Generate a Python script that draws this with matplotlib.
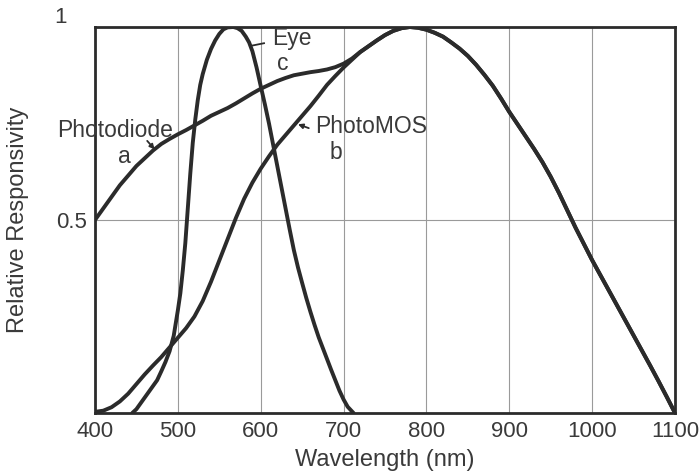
import matplotlib
matplotlib.use("Agg")
import matplotlib.pyplot as plt
from matplotlib.transforms import ScaledTranslation

plt.rcParams['font.family'] = ['Liberation Sans', 'DejaVu Sans']

# ---- data ----
# Photodiode (a)
wl_a = [400, 410, 420, 430, 440, 450, 460, 470, 480, 490, 500, 510, 520, 530,
        540, 550, 560, 570, 580, 590, 600, 610, 620, 630, 640, 650, 660, 670,
        680, 690, 700, 710, 720, 730, 740, 750, 760, 770, 780, 790, 800, 810,
        820, 830, 840, 850, 860, 870, 880, 890, 900, 910, 920, 930, 940, 950,
        960, 970, 980, 990, 1000, 1010, 1020, 1030, 1040, 1050, 1060, 1070,
        1080, 1090, 1100]
resp_a = [0.50, 0.53, 0.56, 0.59, 0.615, 0.64, 0.66, 0.68, 0.697, 0.71, 0.722,
          0.733, 0.745, 0.757, 0.77, 0.78, 0.79, 0.802, 0.815, 0.828, 0.84,
          0.85, 0.86, 0.868, 0.875, 0.879, 0.883, 0.886, 0.89, 0.896, 0.905,
          0.918, 0.935, 0.95, 0.965, 0.979, 0.99, 0.997, 1.0, 0.998, 0.993,
          0.985, 0.975, 0.96, 0.944, 0.925, 0.902, 0.876, 0.848, 0.815, 0.78,
          0.748, 0.716, 0.684, 0.65, 0.612, 0.57, 0.525, 0.48, 0.438, 0.396,
          0.357, 0.318, 0.279, 0.24, 0.201, 0.162, 0.123, 0.083, 0.042, 0.0]

# PhotoMOS (b)
wl_b = [400, 410, 420, 430, 440, 450, 460, 470, 480, 490, 500, 510, 520, 530,
        540, 550, 560, 570, 580, 590, 600, 610, 620, 630, 640, 650, 660, 670,
        680, 690, 700, 710, 720, 730, 740, 750, 760, 770, 780, 790, 800, 810,
        820, 830, 840, 850, 860, 870, 880, 890, 900, 910, 920, 930, 940, 950,
        960, 970, 980, 990, 1000, 1010, 1020, 1030, 1040, 1050, 1060, 1070,
        1080, 1090, 1100]
resp_b = [0.003, 0.006, 0.015, 0.03, 0.05, 0.075, 0.10, 0.123, 0.145, 0.17,
          0.195, 0.22, 0.25, 0.29, 0.34, 0.395, 0.45, 0.505, 0.555, 0.597,
          0.633, 0.665, 0.695, 0.72, 0.745, 0.77, 0.795, 0.822, 0.85, 0.873,
          0.895, 0.915, 0.935, 0.95, 0.965, 0.979, 0.99, 0.997, 1.0, 0.998,
          0.993, 0.985, 0.975, 0.96, 0.944, 0.925, 0.902, 0.876, 0.848, 0.815,
          0.78, 0.748, 0.716, 0.684, 0.65, 0.612, 0.57, 0.525, 0.48, 0.438,
          0.396, 0.357, 0.318, 0.279, 0.24, 0.201, 0.162, 0.123, 0.083, 0.042,
          0.0]

# Eye (c)
wl_c = [445, 450, 455, 460, 465, 470, 475, 480, 485, 490, 495, 500, 503, 506,
        509, 512, 515, 518, 521, 524, 527, 530, 535, 540, 545, 550, 555, 560,
        567, 572, 577, 582, 586, 590, 595, 600, 605, 610, 615, 620, 625, 630,
        635, 640, 645, 650, 655, 660, 665, 670, 675, 680, 685, 690, 695, 700,
        705, 712]
resp_c = [0.0, 0.01, 0.025, 0.04, 0.055, 0.07, 0.085, 0.108, 0.132, 0.16, 0.2,
          0.266, 0.31, 0.37, 0.44, 0.53, 0.62, 0.70, 0.76, 0.81, 0.85, 0.878,
          0.915, 0.943, 0.965, 0.982, 0.994, 0.999, 1.0, 0.997, 0.99, 0.975,
          0.96, 0.937, 0.895, 0.847, 0.8, 0.75, 0.695, 0.64, 0.585, 0.53,
          0.475, 0.422, 0.377, 0.337, 0.298, 0.262, 0.228, 0.196, 0.168, 0.14,
          0.112, 0.085, 0.058, 0.035, 0.016, 0.0]

x_ticks = [400, 500, 600, 700, 800, 900, 1000, 1100]
x_ticklabels = ['400', '500', '600', '700', '800', '900', '1000', '1100']
y_ticks = [0.5, 1.0]
y_ticklabels = ['0.5', '1']

# ---- figure ----
fig = plt.figure(figsize=(7.0, 4.73), dpi=100)
ax = fig.add_axes([95 / 700, 60 / 473, 580 / 700, 386 / 473])

line_col = '#2b2b2b'
txt_col = '#3a3a3a'
lw = 2.8

for wl, r in ((wl_b, resp_b), (wl_a, resp_a), (wl_c, resp_c)):
    ax.plot(wl, r, color=line_col, lw=lw, solid_capstyle='round',
            solid_joinstyle='round', zorder=3)

ax.set_xlim(400, 1100)
ax.set_ylim(0, 1)
ax.set_xticks(x_ticks)
ax.set_xticklabels(x_ticklabels)
ax.set_yticks(y_ticks)
ax.set_yticklabels(y_ticklabels)
ax.tick_params(length=0, labelsize=16, colors=txt_col, pad=6)

ax.grid(True, color='#9a9a9a', lw=0.8)
ax.set_axisbelow(True)
for sp in ax.spines.values():
    sp.set_linewidth(2.0)
    sp.set_color('#2b2b2b')

# shift the "1" label up and left like the reference
for lab in ax.get_yticklabels():
    if lab.get_text() == '1':
        lab.set_transform(lab.get_transform() +
                          ScaledTranslation(-20 / 100, 12 / 100, fig.dpi_scale_trans))

ax.set_xlabel('Wavelength (nm)', fontsize=17, color=txt_col, labelpad=5)
ax.set_ylabel('Relative Responsivity', fontsize=17, color=txt_col, labelpad=18)

# ---- annotations ----
fs = 16.5
ax.text(638, 0.969, 'Eye', fontsize=fs, color=txt_col, ha='center', va='center')
ax.text(627, 0.905, 'c', fontsize=fs, color=txt_col, ha='center', va='center')
ax.plot([590, 604], [0.952, 0.958], color=line_col, lw=1.3)

ax.text(424, 0.733, 'Photodiode', fontsize=fs, color=txt_col, ha='center', va='center')
ax.text(436, 0.665, 'a', fontsize=fs, color=txt_col, ha='center', va='center')
ax.annotate('', xy=(472, 0.683), xytext=(463, 0.705),
            arrowprops=dict(arrowstyle='-|>', color=line_col, lw=1.3,
                            mutation_scale=7, shrinkA=0, shrinkB=0))

ax.text(733, 0.741, 'PhotoMOS', fontsize=fs, color=txt_col, ha='center', va='center')
ax.text(691, 0.675, 'b', fontsize=fs, color=txt_col, ha='center', va='center')
ax.annotate('', xy=(645, 0.748), xytext=(658, 0.738),
            arrowprops=dict(arrowstyle='-|>', color=line_col, lw=1.3,
                            mutation_scale=7, shrinkA=0, shrinkB=0))

fig.savefig('out.png', dpi=100)
